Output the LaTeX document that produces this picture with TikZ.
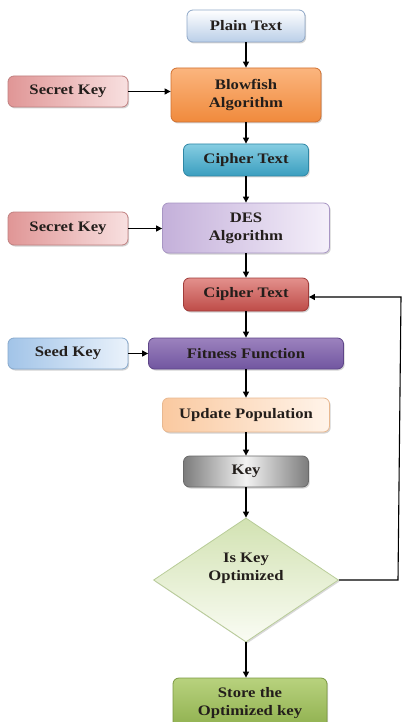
\documentclass[tikz,border=0pt]{standalone}
\usepackage{fontspec}
\setmainfont[FakeStretch=1.15]{Liberation Serif}
\usetikzlibrary{shapes.geometric,arrows.meta,shadows}
\definecolor{ptA}{HTML}{FFFFFF}\definecolor{ptB}{HTML}{BACFE8}\definecolor{ptD}{HTML}{8FA8C8}
\definecolor{bfA}{HTML}{FBB57E}\definecolor{bfB}{HTML}{F08A3C}\definecolor{bfD}{HTML}{D07030}
\definecolor{skA}{HTML}{E09696}\definecolor{skB}{HTML}{F8E0E0}\definecolor{skD}{HTML}{C08080}
\definecolor{c1A}{HTML}{86CDE2}\definecolor{c1B}{HTML}{3A9EBF}\definecolor{c1D}{HTML}{2F87A5}
\definecolor{deA}{HTML}{C4B0DA}\definecolor{deB}{HTML}{F5F0FA}\definecolor{deD}{HTML}{A896C4}
\definecolor{c2A}{HTML}{E3908C}\definecolor{c2B}{HTML}{BE4C48}\definecolor{c2D}{HTML}{A03C3A}
\definecolor{seA}{HTML}{A2C4E8}\definecolor{seB}{HTML}{EAF2FB}\definecolor{seD}{HTML}{86A8CC}
\definecolor{fiA}{HTML}{9C82BE}\definecolor{fiB}{HTML}{7156A0}\definecolor{fiD}{HTML}{5E4588}
\definecolor{upA}{HTML}{FAC9A0}\definecolor{upB}{HTML}{FFF4EA}\definecolor{upD}{HTML}{E8B890}
\definecolor{kyA}{HTML}{7C7C7C}\definecolor{kyB}{HTML}{F2F2F2}\definecolor{kyD}{HTML}{6A6A6A}
\definecolor{diA}{HTML}{D2E2B2}\definecolor{diB}{HTML}{FAFCF4}\definecolor{diD}{HTML}{B8CC98}
\definecolor{stA}{HTML}{B8D27E}\definecolor{stB}{HTML}{8FB04E}\definecolor{stD}{HTML}{7A9840}
\definecolor{txt}{HTML}{231E1B}
\tikzset{
  box/.style={rectangle, rounded corners=6pt, inner sep=0pt, align=center,
    text=txt, font=\fontsize{14.5}{18}\selectfont\bfseries, line width=0.8pt,
    drop shadow={shadow xshift=1.2pt, shadow yshift=-1.5pt, opacity=0.35}},
  arr/.style={line width=1.1pt, -{Triangle[length=6pt,width=6pt]}}
}
\begin{document}
\begin{tikzpicture}[x=1pt,y=-1pt]
\useasboundingbox (0,0) rectangle (403,722);
\node[box, minimum width=118pt, minimum height=32pt, top color=ptA, bottom color=ptB, draw=ptD] (plain) at (246,26) {Plain Text};
\node[box, minimum width=150pt, minimum height=54pt, top color=bfA, bottom color=bfB, draw=bfD] (blow) at (246,95) {Blowfish\\Algorithm};
\node[box, minimum width=120pt, minimum height=31pt, left color=skA, right color=skB, draw=skD] (sk1) at (68,91.5) {Secret Key};
\node[box, minimum width=125pt, minimum height=32pt, top color=c1A, bottom color=c1B, draw=c1D] (ct1) at (246,160) {Cipher Text};
\node[box, minimum width=167pt, minimum height=50pt, left color=deA, right color=deB, draw=deD] (des) at (246,228) {DES\\Algorithm};
\node[box, minimum width=120pt, minimum height=33pt, left color=skA, right color=skB, draw=skD] (sk2) at (68,228.5) {Secret Key};
\node[box, minimum width=125pt, minimum height=33pt, top color=c2A, bottom color=c2B, draw=c2D] (ct2) at (246,294.5) {Cipher Text};
\node[box, minimum width=195pt, minimum height=31pt, top color=fiA, bottom color=fiB, draw=fiD] (fit) at (246,353.5) {Fitness Function};
\node[box, minimum width=120pt, minimum height=31pt, left color=seA, right color=seB, draw=seD] (seed) at (68,353.5) {Seed Key};
\node[box, minimum width=167pt, minimum height=34pt, left color=upA, right color=upB, draw=upD] (upd) at (246,415) {Update Population};
\node[box, minimum width=125pt, minimum height=31pt, left color=kyA, right color=kyA, middle color=kyB, draw=kyD] (key) at (246,471.5) {Key};
\node[diamond, inner sep=0pt, minimum width=185pt, minimum height=124pt, line width=0.8pt,
  top color=diA, bottom color=diB, draw=diD,
  drop shadow={shadow xshift=1.2pt, shadow yshift=-1.5pt, opacity=0.3}] (dia) at (246,580) {};
\node[align=center, text=txt, font=\fontsize{14.5}{18}\selectfont\bfseries] (diat) at (246,568) {Is Key\\Optimized};
\node[box, minimum width=154pt, minimum height=50pt, top color=stA, bottom color=stB, draw=stD] (store) at (250,703) {Store the\\Optimized key};
\draw[arr] (plain) -- (blow);
\draw[arr] (blow) -- (ct1);
\draw[arr] (ct1) -- (des);
\draw[arr] (des) -- (ct2);
\draw[arr] (ct2) -- (fit);
\draw[arr] (fit) -- (upd);
\draw[arr] (upd) -- (key);
\draw[arr] (key) -- (dia.north);
\draw[arr] (dia.south) -- (dia.south |- store.north);
\draw[arr] (sk1.east) -- (sk1.east -| blow.west);
\draw[arr] (sk2.east) -- (sk2.east -| des.west);
\draw[arr] (seed.east) -- (seed.east -| fit.west);
\coordinate (c1) at (398,580);
\coordinate (c2) at (401,297);
\draw[arr] (dia.east) -- (c1) -- (c2) -- (c2 -| ct2.east);
\end{tikzpicture}
\end{document}
